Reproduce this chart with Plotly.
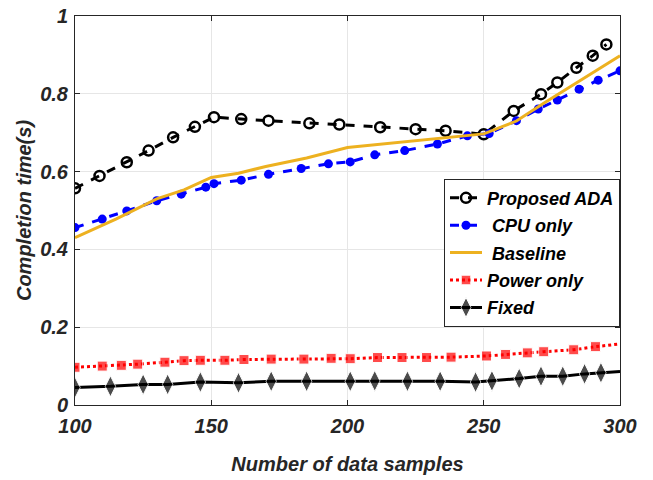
import plotly.graph_objects as go

# ---- data ----
ada_x = [100, 109, 119, 127, 136, 144, 151, 161, 171, 186, 197, 212, 225, 236, 250, 261, 271, 277, 284, 290, 295]
ada_y = [0.557, 0.589, 0.624, 0.654, 0.688, 0.715, 0.740, 0.735, 0.731, 0.724, 0.721, 0.714, 0.709, 0.705, 0.696, 0.756, 0.799, 0.829, 0.867, 0.898, 0.927]

cpu_x = [100, 110, 119, 130, 139, 148, 151, 161, 171, 183, 193, 201, 210, 221, 233, 244, 252, 262, 270, 277, 285, 292, 300]
cpu_y = [0.456, 0.478, 0.499, 0.525, 0.542, 0.560, 0.569, 0.578, 0.593, 0.608, 0.620, 0.625, 0.643, 0.654, 0.671, 0.692, 0.698, 0.731, 0.761, 0.784, 0.812, 0.835, 0.859]

base_x = [100, 115, 130, 140, 150, 160, 170, 185, 200, 215, 250, 262, 272, 300]
base_y = [0.430, 0.478, 0.530, 0.553, 0.585, 0.596, 0.613, 0.635, 0.662, 0.672, 0.697, 0.730, 0.776, 0.898]

pow_x = [100, 110, 117, 123, 133, 140, 146, 155, 162, 172, 184, 194, 201, 211, 220, 229, 238, 251, 258, 266, 272, 283, 291, 300]
pow_y = [0.097, 0.100, 0.102, 0.105, 0.110, 0.114, 0.115, 0.115, 0.117, 0.118, 0.118, 0.120, 0.119, 0.122, 0.122, 0.122, 0.123, 0.126, 0.130, 0.134, 0.137, 0.142, 0.150, 0.157]

fix_x = [100, 113, 125, 134, 146, 160, 172, 185, 201, 210, 222, 234, 247, 253, 263, 271, 279, 287, 293, 300]
fix_y = [0.045, 0.048, 0.053, 0.053, 0.059, 0.057, 0.061, 0.061, 0.061, 0.062, 0.061, 0.061, 0.059, 0.062, 0.068, 0.074, 0.074, 0.080, 0.083, 0.086]

x_ticks = [100, 150, 200, 250, 300]
y_ticks = [0, 0.2, 0.4, 0.6, 0.8, 1]
y_tick_text = ["0", "0.2", "0.4", "0.6", "0.8", "1"]

names = ["Proposed ADA", " CPU only", " Baseline", "Power only", "Fixed"]

FONT = "Liberation Sans, Arial, sans-serif"
AX = "#262626"

fig = go.Figure()

fig.add_trace(go.Scatter(
    x=ada_x, y=ada_y, name=names[0], mode="lines+markers", legendgroup="a",
    line=dict(color="black", width=3, dash="dash"),
    marker=dict(symbol="circle-open", size=10, color="black", line=dict(width=2.5, color="black")),
))
fig.add_trace(go.Scatter(
    x=cpu_x, y=cpu_y, name=names[1], mode="lines+markers", legendgroup="b",
    line=dict(color="#0000ff", width=3, dash="dash"),
    marker=dict(symbol="circle", size=9, color="#0000ff"),
))
fig.add_trace(go.Scatter(
    x=base_x, y=base_y, name=names[2], mode="lines", legendgroup="c",
    line=dict(color="#EDB120", width=3),
))
fig.add_trace(go.Scatter(
    x=pow_x, y=pow_y, name=names[3], mode="lines+markers", legendgroup="d",
    line=dict(color="#ff0000", width=3, dash="dot"),
    marker=dict(symbol="square", size=[10] * (len(pow_x) - 1) + [0], color="#ff0000"),
))
fig.add_trace(go.Scatter(
    x=fix_x, y=fix_y, name=names[4], mode="lines+markers", legendgroup="e",
    line=dict(color="black", width=3),
    marker=dict(symbol="diamond-tall", size=[15] * (len(fix_x) - 1) + [0], color="black"),
))

axis_common = dict(
    showline=True, linecolor=AX, linewidth=1, mirror="ticks",
    ticks="inside", ticklen=5, tickcolor=AX, tickwidth=1,
    showgrid=True, gridcolor="#e6e6e6", gridwidth=1, zeroline=False,
    automargin=False,
    tickfont=dict(family=FONT, size=20, color=AX, weight="bold", style="italic"),
)

fig.update_xaxes(
    range=[100, 300], tickvals=x_ticks, ticklabelstandoff=3,
    title=dict(text="Number of data samples", standoff=20,
               font=dict(family=FONT, size=20, color=AX, weight="bold", style="italic")),
    **axis_common,
)
fig.update_yaxes(
    range=[0, 1], tickvals=y_ticks, ticktext=y_tick_text, ticklabelstandoff=2,
    title=dict(text="Completion time(s)", standoff=3,
               font=dict(family=FONT, size=20, color=AX, weight="bold", style="italic")),
    **axis_common,
)

fig.update_layout(
    width=653, height=480,
    margin=dict(l=75, r=33, t=16, b=75),
    plot_bgcolor="white", paper_bgcolor="white",
    legend=dict(
        x=1, xanchor="right", y=0.582, yanchor="top",
        bgcolor="white", bordercolor=AX, borderwidth=1,
        font=dict(family=FONT, size=18, color="black", weight="bold", style="italic"),
        tracegroupgap=1, itemwidth=32,
    ),
    showlegend=True,
)

fig.write_html("out.html", config={"displayModeBar": False},
               post_script="document.body.style.margin='0';")
